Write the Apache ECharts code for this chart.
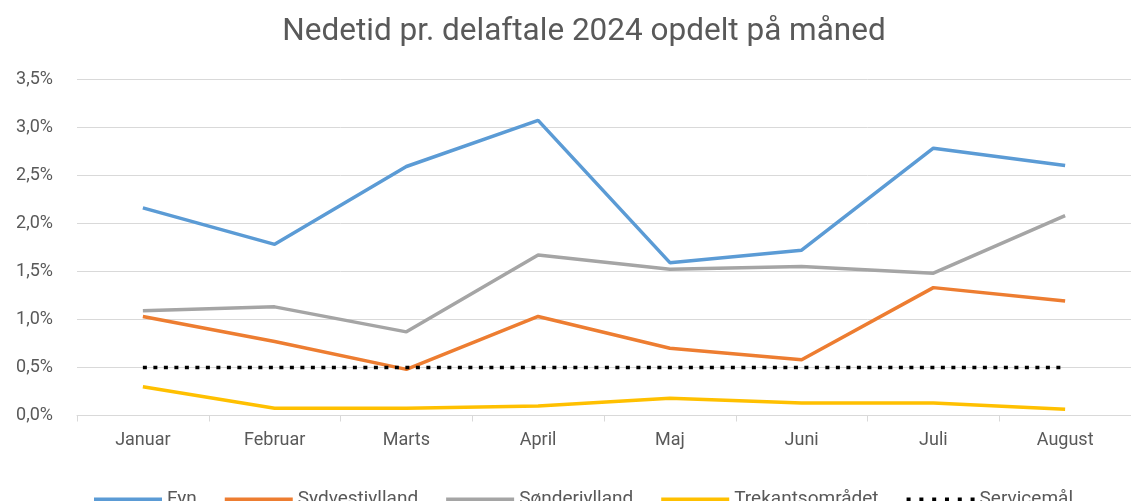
<!DOCTYPE html>
<html>
<head>
<meta charset="utf-8">
<script src="https://cdn.jsdelivr.net/npm/echarts@6/dist/echarts.min.js"></script>
<style>
  html, body { margin: 0; padding: 0; background: #fff; }
  #chart { width: 1131px; height: 501px; }
</style>
</head>
<body>
<div id="chart"></div>
<script>
// måneder
const months = ['Januar', 'Februar', 'Marts', 'April', 'Maj', 'Juni', 'Juli', 'August']

// nedetid i procent
const fyn = [2.16, 1.78, 2.59, 3.07, 1.59, 1.72, 2.78, 2.60]
const sydvestjylland = [1.03, 0.77, 0.48, 1.03, 0.70, 0.58, 1.33, 1.19]
const soenderjylland = [1.09, 1.13, 0.87, 1.67, 1.52, 1.55, 1.48, 2.08]
const trekantsomraadet = [0.30, 0.075, 0.075, 0.10, 0.18, 0.13, 0.13, 0.064]
const servicemaal = [0.5, 0.5, 0.5, 0.5, 0.5, 0.5, 0.5, 0.5]

const FONT = "'Roboto', sans-serif"
const TEXT = '#595959'
const GRID = '#d9d9d9'

// legend icons: solid bar and a row of square dots
const SOLID_ICON = 'path://M0,0H68V4H0Z'
const DOT_ICON = 'path://M0,0H4V4H0Z M12.8,0H16.8V4H12.8Z M25.6,0H29.6V4H25.6Z M38.4,0H42.4V4H38.4Z M51.2,0H55.2V4H51.2Z M64,0H68V4H64Z'

const line = (name, data, color, extra) => ({
  name,
  type: 'line',
  data,
  symbol: 'none',
  animation: false,
  lineStyle: { width: 3.5, color, ...(extra || {}) },
  itemStyle: { color },
})

const chart = echarts.init(document.getElementById('chart'), null, { renderer: 'canvas' })
chart.setOption({
  backgroundColor: '#fff',
  title: {
    text: 'Nedetid pr. delaftale 2024 opdelt på måned',
    left: 579,
    textAlign: 'center',
    top: 11,
    textStyle: { fontFamily: FONT, fontSize: 31.5, fontWeight: 'normal', color: TEXT },
  },
  grid: { left: 77, right: -9, top: 79, bottom: 85.5 },
  legend: {
    left: 89,
    top: 485,
    itemWidth: 68,
    itemHeight: 4,
    itemGap: 28,
    symbolKeepAspect: false,
    textStyle: { fontFamily: FONT, fontSize: 19, color: TEXT },
    data: [
      { name: 'Fyn', icon: SOLID_ICON },
      { name: 'Sydvestjylland', icon: SOLID_ICON },
      { name: 'Sønderjylland', icon: SOLID_ICON },
      { name: 'Trekantsområdet', icon: SOLID_ICON },
      { name: 'Servicemål', icon: DOT_ICON },
    ],
  },
  xAxis: {
    type: 'category',
    data: months,
    boundaryGap: true,
    axisLine: { lineStyle: { color: GRID, width: 1 } },
    axisTick: { show: true, length: 6, lineStyle: { color: GRID } },
    axisLabel: { fontFamily: FONT, fontSize: 18, color: TEXT, margin: 16 },
  },
  yAxis: {
    type: 'value',
    min: 0,
    max: 3.5,
    interval: 0.5,
    axisLine: { show: false },
    axisTick: { show: false },
    splitLine: { lineStyle: { color: GRID, width: 1 } },
    axisLabel: {
      fontFamily: FONT,
      fontSize: 18,
      color: TEXT,
      margin: 24,
      formatter: (v) => v.toFixed(1).replace('.', ',') + '%',
    },
  },
  series: [
    line('Fyn', fyn, '#5B9BD5'),
    line('Sydvestjylland', sydvestjylland, '#ED7D31'),
    line('Sønderjylland', soenderjylland, '#A5A5A5'),
    line('Trekantsområdet', trekantsomraadet, '#FFC000'),
    line('Servicemål', servicemaal, '#000000', { type: [4, 6.5], width: 3.5 }),
  ],
})
</script>
</body>
</html>
